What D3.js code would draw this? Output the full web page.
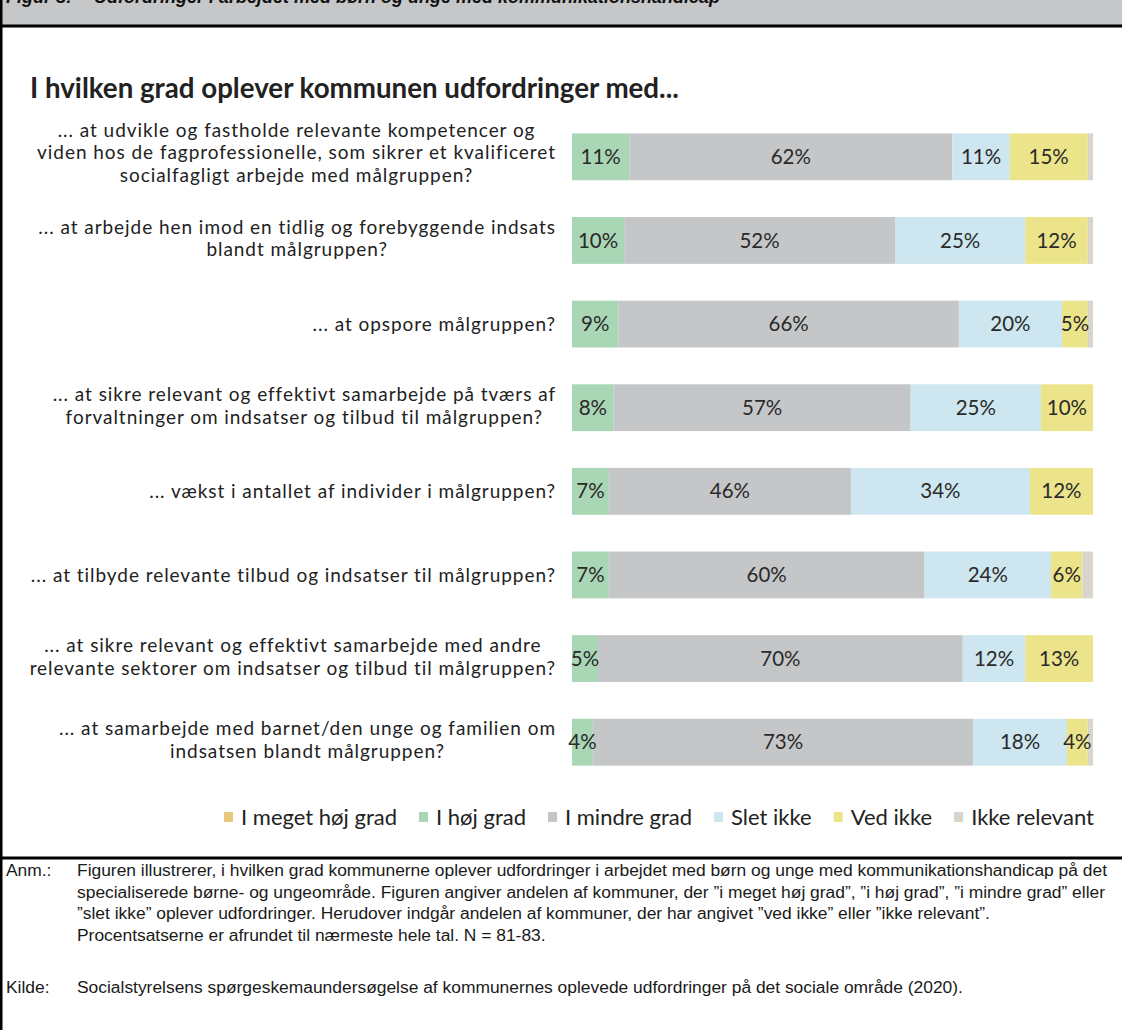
<!DOCTYPE html>
<html><head><meta charset="utf-8">
<script src="https://cdn.jsdelivr.net/npm/d3@7"></script>
<style>body{margin:0;background:#fff}svg{display:block}</style>
</head><body><svg id="c" width="1122" height="1030"></svg>
<script>
const figureLabel = "Figur 8:";
const figureTitle = "Udfordringer i arbejdet med børn og unge med kommunikationshandicap";
const chartTitle = "I hvilken grad oplever kommunen udfordringer med...";
const categories = [
  ["... at udvikle og fastholde relevante kompetencer og", "viden hos de fagprofessionelle, som sikrer et kvalificeret", "socialfagligt arbejde med målgruppen?"],
  ["... at arbejde hen imod en tidlig og forebyggende indsats", "blandt målgruppen?"],
  ["... at opspore målgruppen?"],
  ["... at sikre relevant og effektivt samarbejde på tværs af", "forvaltninger om indsatser og tilbud til målgruppen?"],
  ["... vækst i antallet af individer i målgruppen?"],
  ["... at tilbyde relevante tilbud og indsatser til målgruppen?"],
  ["... at sikre relevant og effektivt samarbejde med andre", "relevante sektorer om indsatser og tilbud til målgruppen?"],
  ["... at samarbejde med barnet/den unge og familien om", "indsatsen blandt målgruppen?"]
];
const seriesNames = ["I meget høj grad", "I høj grad", "I mindre grad", "Slet ikke", "Ved ikke", "Ikke relevant"];
const seriesColors = ["#e8c97c", "#a9d6b5", "#c5c6c8", "#cde6ef", "#ece48b", "#d9d4cc"];
const meGetHoej = [0, 0, 0, 0, 0, 0, 0, 0];
const hoej = [11, 10, 9, 8, 7, 7, 5, 4];
const mindre = [62, 52, 66, 57, 46, 60, 70, 73];
const sletIkke = [11, 25, 20, 25, 34, 24, 12, 18];
const vedIkke = [15, 12, 5, 10, 12, 6, 13, 4];
const ikkeRelevant = [1, 1, 1, 0, 0, 2, 0, 1];
const labelledSeries = ["I høj grad", "I mindre grad", "Slet ikke", "Ved ikke"];
const noteLines = [
  "Figuren illustrerer, i hvilken grad kommunerne oplever udfordringer i arbejdet med børn og unge med kommunikationshandicap på det",
  "specialiserede børne- og ungeområde. Figuren angiver andelen af kommuner, der ”i meget høj grad”, ”i høj grad”, ”i mindre grad” eller",
  "”slet ikke” oplever udfordringer. Herudover indgår andelen af kommuner, der har angivet ”ved ikke” eller ”ikke relevant”.",
  "Procentsatserne er afrundet til nærmeste hele tal. N = 81-83."
];
const sourceText = "Socialstyrelsens spørgeskemaundersøgelse af kommunernes oplevede udfordringer på det sociale område (2020).";

const seriesValues = [meGetHoej, hoej, mindre, sletIkke, vedIkke, ikkeRelevant];
const rows = categories.map((c, i) => {
  const r = {key: i};
  seriesNames.forEach((s, j) => r[s] = seriesValues[j][i]);
  return r;
});

const svg = d3.select("#c");
const W = 1122, H = 1030;
const calibri = "Lato, 'Open Sans', sans-serif";
const arial = "'Liberation Sans', Arial, sans-serif";
const arialNarrow = "'Liberation Sans Narrow', 'Arial Narrow', 'Liberation Sans', sans-serif";

// frame
svg.append("rect").attr("x", 0).attr("y", 0).attr("width", W).attr("height", 26).attr("fill", "#c6c7c9");
svg.append("text").attr("x", 6).attr("y", 3).attr("font-family", arial).attr("font-weight", "bold")
  .attr("font-style", "italic").attr("font-size", 18).attr("fill", "#111").text(figureLabel);
svg.append("text").attr("x", 94).attr("y", 3).attr("font-family", arial).attr("font-weight", "bold")
  .attr("font-style", "italic").attr("font-size", 18).attr("fill", "#111").text(figureTitle);
svg.append("line").attr("x1", 0).attr("x2", W).attr("y1", 26).attr("y2", 26).attr("stroke", "#000").attr("stroke-width", 3);
svg.append("line").attr("x1", 0).attr("x2", W).attr("y1", 858).attr("y2", 858).attr("stroke", "#000").attr("stroke-width", 3);
svg.append("line").attr("x1", 1.25).attr("x2", 1.25).attr("y1", 0).attr("y2", H).attr("stroke", "#000").attr("stroke-width", 2.5);

// title
svg.append("text").attr("x", 30).attr("y", 98).attr("font-family", calibri).attr("font-weight", "bold")
  .attr("font-size", 27.7).attr("fill", "#222").text(chartTitle);

const x = d3.scaleLinear().domain([0, 1]).range([572, 1093]);
const y = d3.scaleBand().domain(d3.range(categories.length)).range([115, 784]).paddingInner(0.44).paddingOuter(0.22);
const color = d3.scaleOrdinal().domain(seriesNames).range(seriesColors);

const stacked = d3.stack().keys(seriesNames).offset(d3.stackOffsetExpand)(rows);

const g = svg.append("g");
const layers = g.selectAll("g.layer").data(stacked).join("g").attr("class", "layer").attr("fill", d => color(d.key));
layers.selectAll("rect").data(d => d.map(v => ({v, key: d.key}))).join("rect")
  .attr("x", d => x(d.v[0])).attr("width", d => Math.max(0, x(d.v[1]) - x(d.v[0])))
  .attr("y", d => y(d.v.data.key)).attr("height", y.bandwidth());

// value labels
stacked.filter(s => labelledSeries.includes(s.key)).forEach(s => {
  g.append("g").selectAll("text").data(s.filter(v => v.data[s.key] > 0)).join("text")
    .attr("x", v => (x(v[0]) + x(v[1])) / 2)
    .attr("y", v => y(v.data.key) + y.bandwidth() / 2)
    .attr("dy", "0.35em").attr("text-anchor", "middle")
    .attr("font-family", calibri).attr("font-size", 20.5).attr("fill", "#2a2a2a")
    .text(v => v.data[s.key] + "%");
});

// category labels
const rightEdge = 556, lh = 22.8;
categories.forEach((lines, i) => {
  const cy = y(i) + y.bandwidth() / 2 - (lines.length - 1) * 2;
  const grp = svg.append("g");
  const ts = lines.map((t, k) => grp.append("text")
    .attr("y", cy + (k - (lines.length - 1) / 2) * lh).attr("dy", "0.35em")
    .attr("font-family", calibri).attr("font-size", 19).attr("letter-spacing", "0.95px")
    .attr("fill", "#222").attr("text-anchor", "middle").text(t));
  const wmax = d3.max(ts, t => t.node().getComputedTextLength());
  ts.forEach(t => t.attr("x", rightEdge - wmax / 2));
});

// legend
const legend = svg.append("g");
let lx = 224;
seriesNames.forEach((s, i) => {
  legend.append("rect").attr("x", lx).attr("y", 812).attr("width", 9).attr("height", 10).attr("fill", color(s));
  const t = legend.append("text").attr("x", lx + 17).attr("y", 817).attr("dy", "0.35em")
    .attr("font-family", calibri).attr("font-size", 22).attr("fill", "#222").text(s);
  lx += 17 + t.node().getComputedTextLength() + 22;
});

// notes
const notes = svg.append("g").attr("font-family", arialNarrow).attr("font-size", 16).attr("fill", "#1a1a1a");
const anm = notes.append("text").attr("x", 6).attr("y", 876).text("Anm.:");
const nt = noteLines.map((l, i) => notes.append("text").attr("x", 77).attr("y", 876 + i * 21.7).text(l));
const stretch = 1030 / nt[0].node().getComputedTextLength();
nt.forEach(t => t.attr("textLength", t.node().getComputedTextLength() * stretch).attr("lengthAdjust", "spacingAndGlyphs"));
anm.attr("textLength", anm.node().getComputedTextLength() * stretch).attr("lengthAdjust", "spacingAndGlyphs");
const kilde = notes.append("text").attr("x", 6).attr("y", 993).text("Kilde:");
kilde.attr("textLength", kilde.node().getComputedTextLength() * stretch).attr("lengthAdjust", "spacingAndGlyphs");
const st = notes.append("text").attr("x", 77).attr("y", 993).text(sourceText);
st.attr("textLength", st.node().getComputedTextLength() * stretch).attr("lengthAdjust", "spacingAndGlyphs");
</script>
</body></html>
